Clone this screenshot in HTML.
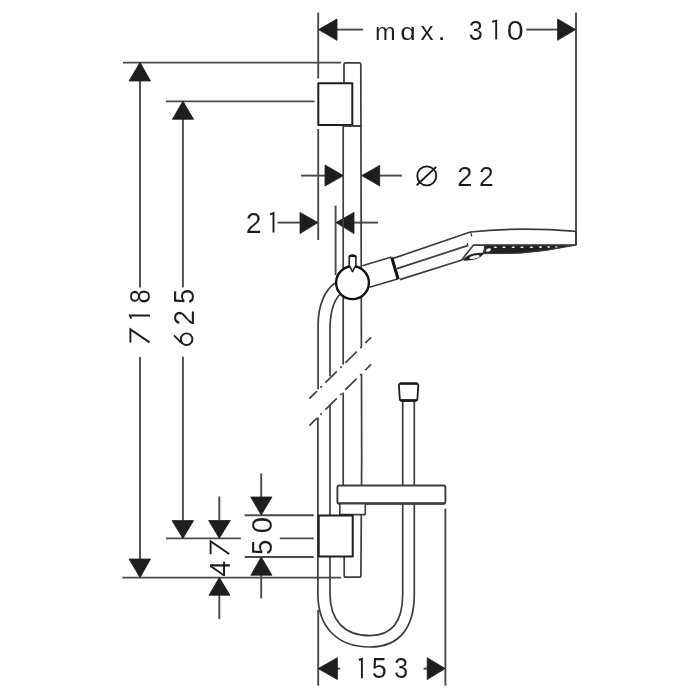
<!DOCTYPE html>
<html><head><meta charset="utf-8">
<style>
html,body{margin:0;padding:0;background:#fff;width:700px;height:700px;overflow:hidden}
svg{display:block;will-change:transform}
text{font-family:"Liberation Sans",sans-serif;font-size:100px;fill:#1c1c1c;stroke:#fff;stroke-width:0.1px;vector-effect:non-scaling-stroke}
.one{fill:none;stroke:#1c1c1c;stroke-width:1.9px;stroke-linejoin:miter}
</style></head>
<body>
<svg width="700" height="700" viewBox="0 0 700 700">
<rect width="700" height="700" fill="#fff"/>
<!-- dimension lines -->
<g stroke="#4a4a4a" stroke-width="1.9" fill="none">
  <!-- max 310 -->
  <line x1="318.2" y1="12.5" x2="318.2" y2="78.6"/>
  <line x1="576" y1="12.4" x2="576" y2="245.5"/>
  <line x1="337" y1="29.6" x2="363" y2="29.6"/>
  <line x1="526.3" y1="29.6" x2="558" y2="29.6"/>
  <!-- 718 -->
  <line x1="123" y1="62.6" x2="341" y2="62.6"/>
  <line x1="140" y1="62.4" x2="140" y2="287.5"/>
  <line x1="140" y1="357" x2="140" y2="577.6"/>
  <line x1="122.4" y1="577.6" x2="341" y2="577.6"/>
  <!-- 625 -->
  <line x1="166" y1="101.35" x2="314.6" y2="101.35"/>
  <line x1="182.9" y1="101.2" x2="182.9" y2="287.4"/>
  <line x1="182.9" y1="356.6" x2="182.9" y2="538.4"/>
  <line x1="166" y1="538.4" x2="240.9" y2="538.4"/>
  <line x1="279.8" y1="538.4" x2="313.8" y2="538.4"/>
  <!-- diam 22 -->
  <line x1="318.2" y1="129" x2="318.2" y2="240"/>
  <line x1="301" y1="175.6" x2="325" y2="175.6"/>
  <line x1="380" y1="175.6" x2="401.8" y2="175.6"/>
  <!-- 21 -->
  <line x1="277.5" y1="222.6" x2="300" y2="222.6"/>
  <line x1="335.6" y1="205.6" x2="335.6" y2="275"/>
  <line x1="354" y1="222.6" x2="378" y2="222.6"/>
  <!-- 50 -->
  <line x1="261.2" y1="473.4" x2="261.2" y2="497"/>
  <line x1="244.6" y1="515.3" x2="313.8" y2="515.3"/>
  <line x1="244.6" y1="557" x2="313.8" y2="557"/>
  <line x1="261.2" y1="575.3" x2="261.2" y2="598.4"/>
  <!-- 47 -->
  <line x1="219.3" y1="496.4" x2="219.3" y2="520.7"/>
  <line x1="219.3" y1="594.8" x2="219.3" y2="619"/>
  <!-- 153 -->
  <line x1="318.2" y1="610" x2="318.2" y2="685.6"/>
  <line x1="445.4" y1="508.6" x2="445.4" y2="685.6"/>
  <line x1="337" y1="668.6" x2="340" y2="668.6"/>
  <line x1="423.6" y1="668.6" x2="427.5" y2="668.6"/>
</g>
<!-- arrows -->
<g fill="#1e1e1e" stroke="#1e1e1e" stroke-width="0.8" stroke-linejoin="round">
  <polygon points="318.5,29.6 337,19 337,40.3"/>
  <polygon points="575.6,29.6 557.6,19 557.6,40.3"/>
  <polygon points="140,62.4 129,81 150.6,81"/>
  <polygon points="140,577.6 129,559 150.6,559"/>
  <polygon points="182.9,101.2 172.4,119.3 193.6,119.3"/>
  <polygon points="182.9,538.4 172,520.6 193.6,520.6"/>
  <polygon points="343.4,175.6 325,165 325,186"/>
  <polygon points="361.7,175.6 379.7,165.4 379.7,186"/>
  <polygon points="318,222.6 300,212.4 300,233.6"/>
  <polygon points="336,222.6 354,212.4 354,233.6"/>
  <polygon points="261.2,515 250.7,497 272,497"/>
  <polygon points="261.2,557 250.9,575.2 272,575.2"/>
  <polygon points="219.3,538.3 208.6,520.5 230.3,520.5"/>
  <polygon points="219.3,577.6 209,595.2 230,595.2"/>
  <polygon points="318.2,668.6 337.4,657.7 337.4,679.6"/>
  <polygon points="445.2,668.6 427.2,657.7 427.2,679.6"/>
</g>
<!-- product -->
<g stroke="#3c3c3c" stroke-width="1.7" fill="none" stroke-linejoin="round">
  <!-- rail -->
  <path d="M344,83.4 V64.4 Q344,62.8 345.6,62.8 H359.2 Q360.8,62.8 360.8,64.4 L361.4,347"/>
  <path d="M361.5,374.6 L361.7,460 L360.9,575.4 Q360.9,577.1 359.3,577.1 H345.8 Q344.2,577.1 344.2,575.4 V556.6"/>
  <line x1="343.2" y1="126" x2="343.2" y2="364.6"/>
  <line x1="343.2" y1="392.6" x2="343.2" y2="485.5"/>
      <!-- top bracket -->
  <rect x="318.3" y="83.3" width="34" height="41.6" fill="#fff" stroke="#1e1e1e" stroke-width="2"/>
  <line x1="343.4" y1="126" x2="361.4" y2="126" stroke-width="1.9"/>
  <!-- hose left outer/inner -->
  <path d="M318.1,389.3 V325 C318.1,305 325,290 335,283"/>
  <path d="M330,376.2 V330 C330,315 333,302 339.5,294.8"/>
  <path d="M317.9,417.5 V594 C317.9,626 336,647 370,647 C400,647 414.3,627 414.3,594 V401"/>
  <path d="M330,405.6 V594 C330,620 344,635.6 370,635.6 C392,635.6 402.7,621 402.7,594 V401"/>
  <!-- hose connector -->
  <path d="M400.8,383.5 H416.4 Q418.4,383.5 418.3,385.5 L417.4,398.8 Q417.3,400.8 415.3,400.8 H401.8 Q399.8,400.8 399.8,398.8 L398.9,385.5 Q398.8,383.5 400.8,383.5 Z" fill="#fff" stroke="#1a1a1a" stroke-width="1.8"/>
  <line x1="400" y1="383.6" x2="417.4" y2="383.6" stroke="#1a1a1a" stroke-width="2.2"/>
  <line x1="401" y1="400.4" x2="416.2" y2="400.4" stroke="#1a1a1a" stroke-width="2.6"/>
  <!-- soap dish -->
  <rect x="337.4" y="485.5" width="108" height="18.2" rx="2" fill="#fff" stroke-width="1.9"/>
  <line x1="338.5" y1="503.4" x2="444.4" y2="503.4" stroke-width="2.4"/>
  <rect x="339.8" y="503.7" width="25.5" height="10.9" fill="#fff" stroke-width="1.6"/>
  <!-- bottom bracket -->
  <rect x="318.7" y="515.4" width="34" height="41.2" fill="#fff" stroke="#1e1e1e" stroke-width="2"/>
  <!-- slider circle -->
  <circle cx="352.5" cy="282.7" r="16.4" fill="#fff" stroke="#111" stroke-width="2.4"/>
  <path d="M349.2,265.2 V257.6 Q349.2,255.6 351.2,255.6 H353.9 Q355.9,255.6 355.9,257.6 V265.2 L352.5,271.6 Z" fill="#fff" stroke="#1a1a1a" stroke-width="1.5"/>
  <path d="M349.6,257.2 Q349.8,255.7 351.4,255.7 H353.8 Q355.4,255.7 355.6,257.2" stroke="#111" stroke-width="2.4"/>
  <!-- handshower handle -->
  <path d="M362.4,265.8 L390.6,257.2 L392.4,258.4 M369.5,287.2 L397.5,279" />
  <line x1="391.8" y1="257.8" x2="398.2" y2="279.2" stroke-width="3" stroke="#111"/>
  <path d="M393.2,258.4 L470.3,232 Q520,226.6 576,231.4" />
  <path d="M397,268.6 L468.3,245.4"/>
  <path d="M399.8,279.6 L462,260"/>
  <line x1="470.6" y1="232" x2="471.8" y2="236.5" stroke-width="1.2"/>
  <line x1="467.3" y1="243" x2="467.6" y2="245.5" stroke-width="1.2"/>
  <!-- head face -->
  <path d="M461.5,260.2 L473.3,245.2 L576,245.2" stroke-width="1.7"/>
  <path d="M576,231 V245.2" stroke-width="2"/>
  <path d="M484.5,245.2 L576,245.2 L571,246 Q545,251.5 520,253.2 Q500,253.8 483,253.6 Q484.8,249 484.5,245.2 Z" fill="#222" stroke-width="1"/>
  <path d="M484.5,245.6 Q486,249.5 483,253.6 L464,259.6" stroke-width="1.7"/>
  <path d="M463.5,260 C467,255 474,253 483.5,253.3 C481,257.8 472,260.6 463.5,260 Z" fill="#222" stroke="#222" stroke-width="1"/>
</g>
<g fill="#fff">
  <ellipse cx="474.5" cy="257" rx="5.2" ry="1.5" transform="rotate(-14 474.5 257)"/>
  <ellipse cx="488.5" cy="250" rx="2.6" ry="1.6" transform="rotate(-20 488.5 250)"/>
  <ellipse cx="495.4" cy="247.2" rx="1.7" ry="0.8"/>
  <ellipse cx="504" cy="247.2" rx="1.7" ry="0.8"/>
  <ellipse cx="513.2" cy="247.2" rx="1.7" ry="0.8"/>
  <ellipse cx="522" cy="247.2" rx="1.7" ry="0.8"/>
  <ellipse cx="531.4" cy="247.2" rx="1.7" ry="0.8"/>
  <ellipse cx="540.4" cy="247.1" rx="1.7" ry="0.8"/>
  <ellipse cx="548.6" cy="247" rx="1.5" ry="0.7"/>
  <ellipse cx="556.3" cy="246.9" rx="1.3" ry="0.6"/>
</g>
<!-- break lines -->
<g stroke="#444" stroke-width="1.7" stroke-dasharray="16 5 2 5" stroke-dashoffset="5.3">
  <line x1="309.3" y1="398.6" x2="371.1" y2="337.4"/>
  <line x1="309.3" y1="425.7" x2="371.1" y2="364.3"/>
</g>

<g>
<text transform="matrix(0.2483 0 0 0.2453 374.95 40.10)">m</text>
<text transform="matrix(0.2802 0 0 0.2482 400.22 40.06)">ɑ</text>
<text transform="matrix(0.2615 0 0 0.2555 420.61 40.10)">x</text>
<text transform="matrix(0.2941 0 0 0.2618 437.61 40.10)">.</text>
<text transform="matrix(0.2531 0 0 0.2825 468.74 39.82)">3</text>
<path class="one" d="M492.20,21.90 L496.20,20.70 V39.60"/>
<text transform="matrix(0.3054 0 0 0.2825 506.81 39.82)">0</text>
<circle class="one" cx="426.8" cy="175.9" r="9.5"/><path class="one" d="M416.7,185.3 L436.2,166.9"/>
<text transform="matrix(0.2722 0 0 0.2793 457.23 186.40)">2</text>
<text transform="matrix(0.2634 0 0 0.2793 479.08 186.40)">2</text>
<text transform="matrix(0.2832 0 0 0.2922 245.68 232.90)">2</text>
<path class="one" d="M270.10,214.30 L273.50,213.10 V232.60"/>
<path class="one" d="M358.80,660.00 L361.90,658.80 V678.20"/>
<text transform="matrix(0.2700 0 0 0.2909 371.72 678.42)">5</text>
<text transform="matrix(0.2489 0 0 0.2895 394.35 678.42)">3</text>
<text transform="translate(150.21 303.61) rotate(-90) scale(0.2557 0.2966)">8</text>
<path class="one" d="M131.10,318.70 L129.90,315.50 H150.00"/>
<path class="one" d="M130.40,342.60 V329.40 L149.60,342.40"/>
<text transform="translate(193.61 303.99) rotate(-90) scale(0.2721 0.2952)">5</text>
<text transform="translate(193.90 325.39) rotate(-90) scale(0.2766 0.2950)">2</text>
<path class="one" d="M173.9,335.4 L182.3,343.6"/><circle class="one" cx="186.6" cy="339.2" r="5.8"/>
<path class="one" d="M210.60,554.20 V541.20 L229.20,554.00"/>
<text transform="translate(229.50 576.77) rotate(-90) scale(0.2917 0.2878)">4</text>
<text transform="translate(271.72 533.47) rotate(-90) scale(0.2991 0.2910)">0</text>
<text transform="translate(271.71 555.11) rotate(-90) scale(0.2763 0.2952)">5</text>
</g>
</svg>
</body></html>
